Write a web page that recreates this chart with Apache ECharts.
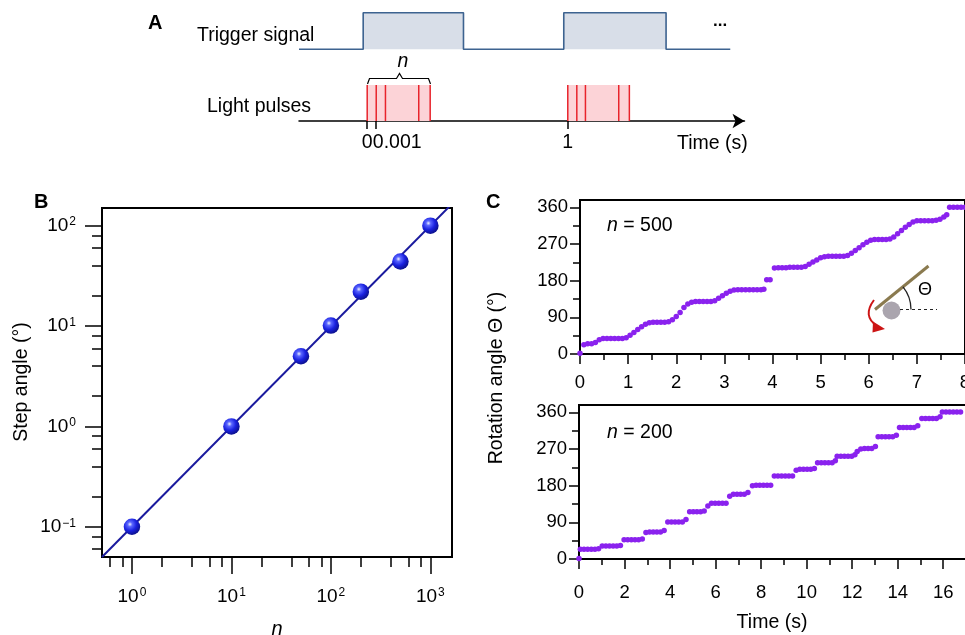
<!DOCTYPE html>
<html>
<head>
<meta charset="utf-8">
<title>Light-driven stepwise rotation</title>
<script src="https://cdn.jsdelivr.net/npm/echarts@6/dist/echarts.min.js"></script>
<style>
  html, body { margin: 0; padding: 0; background: #fff; }
  #chart { width: 965px; height: 635px; }
</style>
</head>
<body>
<div id="chart"></div>
<script>
// ---- panel A: schematic timing (time axis is not to scale) ----
const triggerSignal = [[-0.34, 0], [-0.02, 0], [-0.02, 1], [0.48, 1], [0.48, 0], [0.98, 0], [0.98, 1], [1.49, 1], [1.49, 0], [1.81, 0]]
const pulseBands = [[0, 0.314], [1, 1.307]]
const pulseTimes = [0, 0.045, 0.091, 0.257, 0.314, 1, 1.045, 1.088, 1.254, 1.307]
const timeTicks = [0, 0.045, 1]
const timeTickLabels = ['0', '{r|0.001}', '1']

// ---- panel B: step angle vs n ----
const stepN = [1, 10, 50, 100, 200, 500, 1000]
const stepAngle = [0.1, 1.0, 5.0, 10.1, 22, 44, 100]
const fitN = [0.5, 1650]
const fitAngle = [0.05, 165]
const bXMajor = [1, 10, 100, 1000]
const bXLabels = ['10{s|0}', '10{s|1}', '10{s|2}', '10{s|3}']
const bXMinor = [0.6, 0.8, 2, 4, 6, 8, 20, 40, 60, 80, 200, 400, 600, 800]
const bYMajor = [0.1, 1, 10, 100]
const bYLabels = ['10{s|\u22121}', '10{s|0}', '10{s|1}', '10{s|2}']
const bYMinor = [0.06, 0.08, 0.2, 0.4, 0.6, 0.8, 2, 4, 6, 8, 20, 40, 60, 80]

// ---- panel C: rotation angle vs time, [time (s), angle (deg)] ----
const rotation500 = [
  [0.00, 2], [0.08, 23], [0.16, 25], [0.24, 25], [0.32, 28], [0.40, 35], [0.48, 38], [0.56, 38], [0.64, 38],
  [0.72, 38], [0.80, 38], [0.88, 38], [0.96, 40], [1.04, 46], [1.12, 53], [1.20, 60], [1.28, 67], [1.36, 73],
  [1.44, 77], [1.52, 78], [1.60, 78], [1.68, 78], [1.76, 78], [1.84, 79], [1.92, 84], [2.00, 92], [2.08, 102],
  [2.16, 114], [2.24, 123], [2.32, 127], [2.40, 129], [2.48, 129], [2.56, 129], [2.64, 129], [2.72, 129],
  [2.80, 131], [2.88, 137], [2.96, 143], [3.04, 149], [3.12, 154], [3.20, 157], [3.28, 158], [3.36, 158],
  [3.44, 158], [3.52, 158], [3.60, 158], [3.68, 158], [3.76, 158], [3.82, 159], [3.88, 182], [3.95, 182],
  [4.04, 211], [4.12, 212], [4.20, 212], [4.28, 212], [4.36, 213], [4.44, 213], [4.52, 213], [4.60, 213],
  [4.68, 215], [4.76, 220], [4.84, 226], [4.92, 231], [5.00, 236], [5.08, 239], [5.16, 240], [5.24, 240],
  [5.32, 240], [5.40, 240], [5.48, 240], [5.56, 242], [5.64, 247], [5.72, 254], [5.80, 261], [5.88, 268],
  [5.96, 274], [6.04, 279], [6.12, 281], [6.20, 281], [6.28, 281], [6.36, 281], [6.44, 282], [6.52, 287],
  [6.60, 295], [6.68, 303], [6.76, 311], [6.84, 318], [6.92, 324], [7.00, 327], [7.08, 327], [7.16, 327],
  [7.24, 327], [7.32, 327], [7.40, 328], [7.48, 331], [7.56, 336], [7.62, 342], [7.68, 360], [7.76, 360],
  [7.84, 360], [7.92, 360], [8.00, 360]
]
const rotation200 = [
  [0.00, 1], [0.06, 24], [0.22, 24], [0.38, 24], [0.54, 24], [0.70, 24], [0.86, 25],
  [1.02, 32], [1.18, 32], [1.34, 32], [1.50, 32], [1.66, 32], [1.82, 33],
  [1.98, 47], [2.14, 47], [2.30, 47], [2.46, 47], [2.62, 47], [2.78, 49],
  [2.94, 65], [3.10, 66], [3.26, 66], [3.42, 66], [3.58, 66], [3.74, 70],
  [3.90, 91], [4.06, 91], [4.22, 91], [4.38, 91], [4.54, 91], [4.70, 97],
  [4.86, 116], [5.02, 116], [5.18, 116], [5.34, 116], [5.50, 118],
  [5.66, 130], [5.82, 137], [5.98, 137], [6.14, 137], [6.30, 137], [6.46, 137],
  [6.62, 154], [6.78, 159], [6.94, 159], [7.10, 159], [7.26, 159], [7.42, 163],
  [7.62, 180], [7.78, 181], [7.94, 181], [8.10, 181], [8.26, 181], [8.42, 181],
  [8.58, 204], [8.74, 204], [8.90, 204], [9.06, 204], [9.22, 204], [9.38, 204],
  [9.54, 218], [9.70, 220], [9.86, 220], [10.02, 220], [10.18, 220], [10.34, 222],
  [10.48, 236], [10.64, 236], [10.80, 236], [10.96, 236], [11.12, 236], [11.26, 241],
  [11.34, 252], [11.50, 252], [11.66, 252], [11.82, 252], [11.98, 252], [12.12, 256],
  [12.22, 264], [12.38, 270], [12.54, 271], [12.70, 271], [12.86, 271], [13.02, 276],
  [13.14, 300], [13.30, 300], [13.46, 300], [13.62, 300], [13.78, 300], [13.94, 304],
  [14.08, 323], [14.24, 323], [14.40, 323], [14.56, 323], [14.72, 323], [14.88, 327],
  [15.06, 345], [15.22, 345], [15.38, 345], [15.54, 345], [15.70, 345], [15.86, 349],
  [15.96, 361], [16.12, 361], [16.28, 361], [16.44, 361], [16.60, 361], [16.76, 361]
]
const angleMajor = [0, 90, 180, 270, 360]
const angleMinor = [45, 135, 225, 315]
const time500Major = [0, 1, 2, 3, 4, 5, 6, 7, 8]
const time500Minor = [0.5, 1.5, 2.5, 3.5, 4.5, 5.5, 6.5, 7.5]
const time200Major = [0, 2, 4, 6, 8, 10, 12, 14, 16]
const time200Minor = [1, 3, 5, 7, 9, 11, 13, 15]

const font = 'Liberation Sans, Arial, sans-serif'
const black = '#000'
const purple = '#8a22ee'

const supRich = {
  s: { fontSize: 12, fontFamily: font, color: black, verticalAlign: 'top', padding: [0, 0, 0, 1] }
}

// pick the label for a log tick value
function logLabel(ticks, labels) {
  return function (v) {
    let best = 0
    ticks.forEach((t, i) => {
      if (Math.abs(Math.log10(t) - Math.log10(v)) < Math.abs(Math.log10(ticks[best]) - Math.log10(v))) best = i
    })
    return labels[best]
  }
}

function tickAxis(type, gridIndex, min, max, ticks, len, position) {
  return {
    type, gridIndex, min, max, position,
    axisLine: { show: false },
    axisTick: { length: len, lineStyle: { color: black, width: 1.5 }, customValues: ticks },
    axisLabel: { show: false },
    splitLine: { show: false },
    minorTick: { show: false }
  }
}

function mainAxis(type, gridIndex, min, max, ticks, len, position, labelOpt) {
  return {
    type, gridIndex, min, max, position,
    axisLine: { show: true, onZero: false, lineStyle: { color: black, width: 2 } },
    axisTick: { length: len, lineStyle: { color: black, width: 1.5 }, customValues: ticks },
    axisLabel: Object.assign({ customValues: ticks, color: black, fontSize: 18.5, fontFamily: font }, labelOpt),
    splitLine: { show: false },
    minorTick: { show: false }
  }
}

const frame = { show: true, borderColor: black, borderWidth: 2, backgroundColor: 'transparent', outerBoundsMode: 'none', containLabel: false }

const sphere = {
  type: 'radial', x: 0.38, y: 0.35, r: 0.65,
  colorStops: [
    { offset: 0, color: '#eef0ff' },
    { offset: 0.22, color: '#5a66ff' },
    { offset: 0.6, color: '#1b22e0' },
    { offset: 1, color: '#0c1190' }
  ]
}

const txt = (x, y, text, extra, rotation) => ({
  type: 'text', x, y, rotation: rotation || 0, silent: true,
  style: Object.assign({ text, fill: black, fontSize: 19.5, fontFamily: font, verticalAlign: 'middle' }, extra)
})

const chart = echarts.init(document.getElementById('chart'))

chart.setOption({
  animation: false,
  backgroundColor: '#fff',
  textStyle: { fontFamily: font },
  grid: [
    { left: 299, top: 12.7, width: 445.5, height: 36.6, show: false, outerBoundsMode: 'none' },
    { left: 299, top: 85, width: 445.5, height: 36, show: false, outerBoundsMode: 'none' },
    Object.assign({ left: 102, top: 208, width: 350, height: 349 }, frame),
    Object.assign({ left: 580, top: 200, width: 385, height: 154 }, frame),
    Object.assign({ left: 579, top: 405, width: 387, height: 154 }, frame)
  ],
  xAxis: [
    { type: 'value', gridIndex: 0, min: -0.34, max: 1.881, show: false },
    {
      type: 'value', gridIndex: 1, min: -0.34, max: 1.881,
      axisLine: { show: true, onZero: false, symbol: ['none', 'arrow'], symbolSize: [11, 12], lineStyle: { color: black, width: 1.5 } },
      axisTick: { length: 8, lineStyle: { color: black, width: 1.5 }, customValues: timeTicks },
      axisLabel: {
        customValues: timeTicks, color: black, fontSize: 19.5, fontFamily: font, margin: 12,
        formatter: v => timeTickLabels[timeTicks.indexOf(v)] || '',
        rich: { r: { fontSize: 19.5, fontFamily: font, color: black, padding: [0, 0, 0, 42] } }
      },
      splitLine: { show: false }
    },
    mainAxis('log', 2, 0.5, 1650, bXMajor, 17, 'bottom', { fontSize: 19, margin: 30, formatter: logLabel(bXMajor, bXLabels), rich: supRich }),
    tickAxis('log', 2, 0.5, 1650, bXMinor, 10, 'bottom'),
    mainAxis('value', 3, 0, 8, time500Major, 10, 'bottom', { margin: 19 }),
    tickAxis('value', 3, 0, 8, time500Minor, 6, 'bottom'),
    mainAxis('value', 4, 0, 17, time200Major, 10, 'bottom', { margin: 24 }),
    tickAxis('value', 4, 0, 17, time200Minor, 6, 'bottom')
  ],
  yAxis: [
    { type: 'value', gridIndex: 0, min: 0, max: 1, show: false },
    { type: 'value', gridIndex: 1, min: 0, max: 1, show: false },
    mainAxis('log', 2, 0.05, 150, bYMajor, 17, 'left', { fontSize: 19, margin: 26, formatter: logLabel(bYMajor, bYLabels), rich: supRich }),
    tickAxis('log', 2, 0.05, 150, bYMinor, 10, 'left'),
    mainAxis('value', 3, 0, 378, angleMajor, 10, 'left', { margin: 12 }),
    tickAxis('value', 3, 0, 378, angleMinor, 7, 'left'),
    mainAxis('value', 4, 0, 378, angleMajor, 10, 'left', { margin: 12 }),
    tickAxis('value', 4, 0, 378, angleMinor, 7, 'left')
  ],
  series: [
    {
      name: 'Trigger signal', type: 'line', xAxisIndex: 0, yAxisIndex: 0,
      data: triggerSignal, symbol: 'none',
      lineStyle: { color: '#3d6390', width: 1.6 },
      areaStyle: { color: '#d8dee8', opacity: 1, origin: 'start' }
    },
    {
      name: 'Pulse train', type: 'custom', xAxisIndex: 1, yAxisIndex: 1,
      data: pulseBands, encode: { x: [0, 1] },
      renderItem: (params, api) => {
        const a = api.coord([api.value(0), 1])
        const b = api.coord([api.value(1), 0])
        return { type: 'rect', shape: { x: a[0], y: a[1], width: b[0] - a[0], height: b[1] - a[1] }, style: { fill: '#fcd3d7' } }
      }
    },
    {
      name: 'Light pulses', type: 'custom', xAxisIndex: 1, yAxisIndex: 1,
      data: pulseTimes.map(t => [t]), encode: { x: 0 },
      renderItem: (params, api) => {
        const a = api.coord([api.value(0), 0])
        const b = api.coord([api.value(0), 1])
        return { type: 'line', shape: { x1: a[0], y1: a[1], x2: b[0], y2: b[1] }, style: { stroke: '#e8232b', lineWidth: 1.5 } }
      }
    },
    {
      name: 'Fit', type: 'line', xAxisIndex: 2, yAxisIndex: 2,
      data: fitN.map((n, i) => [n, fitAngle[i]]), symbol: 'none', clip: true,
      lineStyle: { color: '#1a1a9e', width: 2 }, z: 3
    },
    {
      name: 'Step angle', type: 'scatter', xAxisIndex: 2, yAxisIndex: 2,
      data: stepN.map((n, i) => [n, stepAngle[i]]), symbolSize: 16.5,
      itemStyle: { color: sphere, opacity: 1 }, z: 4
    },
    {
      name: 'n = 500', type: 'scatter', xAxisIndex: 4, yAxisIndex: 4,
      data: rotation500, symbolSize: 5.5, itemStyle: { color: purple, opacity: 1 }, clip: false
    },
    {
      name: 'n = 200', type: 'scatter', xAxisIndex: 6, yAxisIndex: 6,
      data: rotation200, symbolSize: 5.5, itemStyle: { color: purple, opacity: 1 }, clip: false
    }
  ],
  graphic: [
    // panel letters
    txt(148, 23, 'A', { fontSize: 20, fontWeight: 'bold' }),
    txt(34, 202, 'B', { fontSize: 20, fontWeight: 'bold' }),
    txt(486, 202, 'C', { fontSize: 20, fontWeight: 'bold' }),
    // panel A
    txt(197, 36, 'Trigger signal'),
    txt(207, 107, 'Light pulses'),
    txt(677, 144, 'Time (s)'),
    txt(713, 21, '...', { fontSize: 17, fontWeight: 'bold' }),
    txt(395, 97, '...', { fontSize: 16, fontWeight: 'bold' }),
    txt(594, 97, '...', { fontSize: 16, fontWeight: 'bold' }),
    txt(403, 62, 'n', { fontStyle: 'italic', align: 'center' }),
    {
      type: 'polyline', silent: true,
      shape: { points: [[367.5, 84], [369.5, 78.5], [396.5, 78.5], [399.5, 73.5], [402.5, 78.5], [428.5, 78.5], [430.5, 84]] },
      style: { stroke: black, lineWidth: 1.2, fill: null }
    },
    // panel B
    txt(22, 382, 'Step angle (\u00b0)', { fontSize: 19.5, align: 'center' }, Math.PI / 2),
    txt(277, 629, 'n', { fontSize: 20, fontStyle: 'italic', align: 'center' }),
    // panel C
    txt(607, 226, '{i|n} = 500', { rich: { i: { fontSize: 19.5, fontStyle: 'italic', fontFamily: font } } }),
    txt(607, 433, '{i|n} = 200', { rich: { i: { fontSize: 19.5, fontStyle: 'italic', fontFamily: font } } }),
    txt(772, 623, 'Time (s)', { align: 'center' }),
    txt(497, 378, 'Rotation angle \u0398 (\u00b0)', { align: 'center' }, Math.PI / 2),
    // inset: rod, hub, angle, turning arrow
    { type: 'line', silent: true, shape: { x1: 875, y1: 309.5, x2: 928.5, y2: 266 }, style: { stroke: '#8a7a4f', lineWidth: 3 } },
    { type: 'circle', silent: true, shape: { cx: 891.5, cy: 310.5, r: 9 }, style: { fill: '#aaa5ae' } },
    { type: 'line', silent: true, shape: { x1: 900, y1: 309.5, x2: 937, y2: 309.5 }, style: { stroke: '#222', lineWidth: 1.2, lineDash: [3, 3] } },
    { type: 'arc', silent: true, shape: { cx: 875, cy: 309.5, r: 36, startAngle: -0.68, endAngle: 0, clockwise: true }, style: { stroke: '#222', lineWidth: 1.3, fill: null } },
    txt(925, 290, '\u0398', { fontSize: 18, align: 'center' }),
    { type: 'bezierCurve', silent: true, shape: { x1: 874, y1: 300, x2: 877, y2: 326, cpx1: 862, cpy1: 316 }, style: { stroke: '#cc1515', lineWidth: 2, fill: null } },
    { type: 'polygon', silent: true, shape: { points: [[885, 329], [873, 321.5], [872.5, 332.5]] }, style: { fill: '#cc1515' } }
  ]
})
</script>
</body>
</html>
